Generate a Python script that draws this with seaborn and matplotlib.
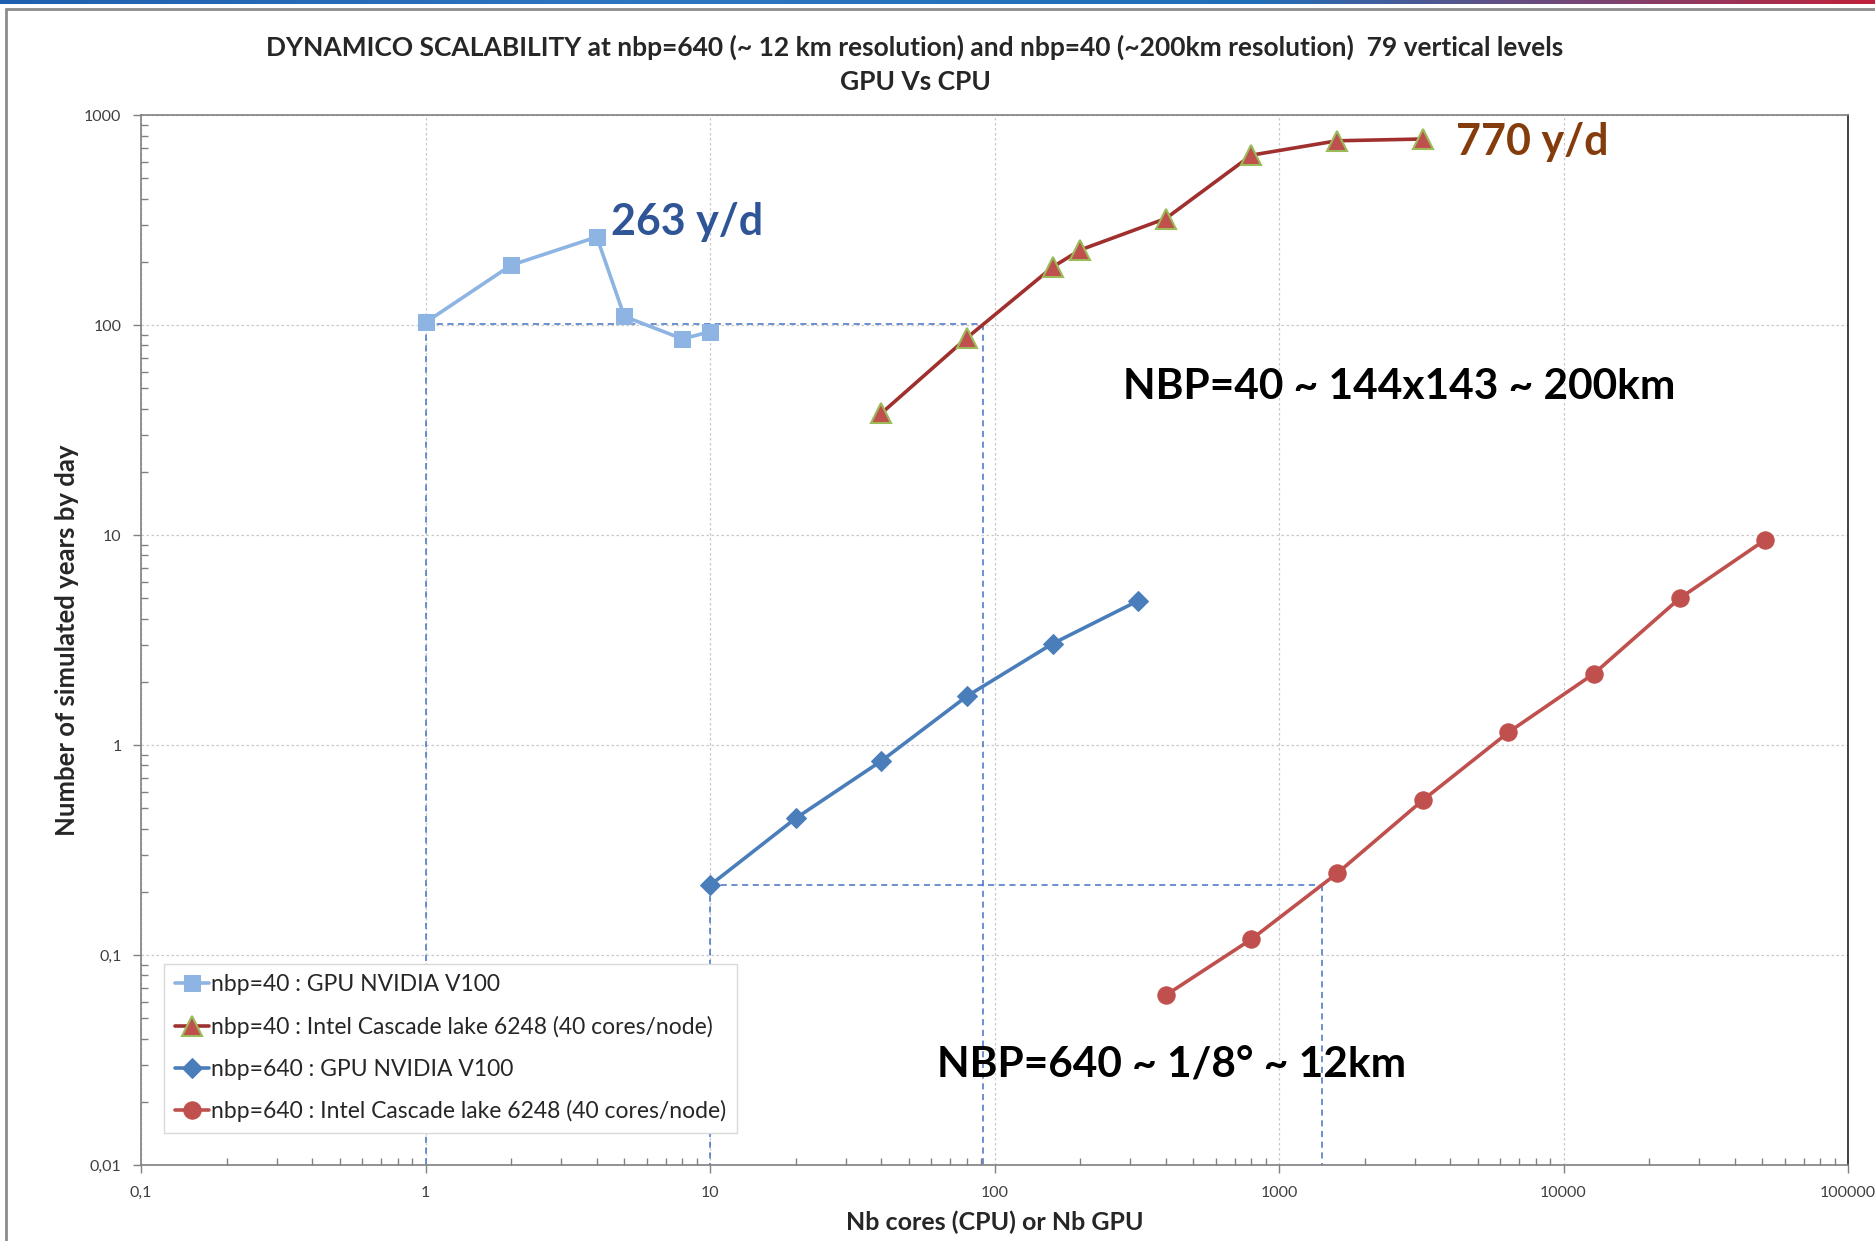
import numpy as np
import pandas as pd
import matplotlib
matplotlib.use("Agg")
import matplotlib.pyplot as plt
from matplotlib.ticker import FuncFormatter, LogLocator, NullFormatter
import seaborn as sns

# nbp=40 : GPU NVIDIA V100
gpu40_x = [1, 2, 4, 5, 8, 10]
gpu40_y = [103, 193, 263, 110, 86, 93]

# nbp=40 : Intel Cascade lake 6248
cpu40_x = [40, 80, 160, 200, 400, 800, 1600, 3200]
cpu40_y = [38, 87, 189, 228, 322, 645, 755, 770]

# nbp=640 : GPU NVIDIA V100
gpu640_x = [10, 20, 40, 80, 160, 320]
gpu640_y = [0.215, 0.448, 0.84, 1.71, 3.04, 4.87]

# nbp=640 : Intel Cascade lake 6248
cpu640_x = [400, 800, 1600, 3200, 6400, 12800, 25600, 51200]
cpu640_y = [0.0644, 0.119, 0.245, 0.546, 1.15, 2.19, 5.0, 9.5]

# GPU vs CPU equivalence guides (start point, equivalent CPU cores)
guide_y = [101, 0.215]
guide_x0 = [1, 10]
guide_x1 = [91, 1413]

series_labels = [
    "nbp=40 : GPU NVIDIA V100",
    "nbp=40 : Intel Cascade lake 6248 (40 cores/node)",
    "nbp=640 : GPU NVIDIA V100",
    "nbp=640 : Intel Cascade lake 6248 (40 cores/node)",
]

x_ticks = [0.1, 1, 10, 100, 1000, 10000, 100000]
y_ticks = [0.01, 0.1, 1, 10, 100, 1000]

sns.set_theme(style="white")
plt.rcParams["font.family"] = ["Lato", "DejaVu Sans"]

fig = plt.figure(figsize=(18.75, 12.41), dpi=100)
ax = fig.add_axes([0.0752, 0.0612, 0.9104, 0.846])

styles = [
    dict(color="#8DB4E2", marker="s", markersize=12, mfc="#8DB4E2", mec="#8DB4E2"),
    dict(color="#A0302E", marker="^", markersize=15, mfc="#C0504D", mec="#9BBB59", mew=1.5),
    dict(color="#4A7EBB", marker="D", markersize=10, mfc="#4A7EBB", mec="#4A7EBB"),
    dict(color="#C0504D", marker="o", markersize=12.5, mfc="#C0504D", mec="#C0504D"),
]
all_x = [gpu40_x, cpu40_x, gpu640_x, cpu640_x]
all_y = [gpu40_y, cpu40_y, gpu640_y, cpu640_y]

for xs, ys, lab, st in zip(all_x, all_y, series_labels, styles):
    df = pd.DataFrame({"x": xs, "y": ys})
    sns.lineplot(data=df, x="x", y="y", ax=ax, label=lab, estimator=None,
                 linewidth=2.6, zorder=4, **st)

# dashed equivalence guides
for gy, gx0, gx1 in zip(guide_y, guide_x0, guide_x1):
    ax.plot([gx0, gx1], [gy, gy], ls=(0, (4, 3)), color="#4472C4", lw=1.1, zorder=2)
    ax.plot([gx0, gx0], [gy, 0.01], ls=(0, (4, 3)), color="#4472C4", lw=1.1, zorder=2)
    ax.plot([gx1, gx1], [gy, 0.01], ls=(0, (4, 3)), color="#4472C4", lw=1.1, zorder=2)

ax.set_xscale("log")
ax.set_yscale("log")
ax.set_xlim(0.1, 100000)
ax.set_ylim(0.01, 1000)

def comma_fmt(v, pos):
    if v >= 1:
        return f"{int(round(v))}"
    return f"{v:g}".replace(".", ",")

ax.set_xticks(x_ticks)
ax.set_yticks(y_ticks)
ax.xaxis.set_major_formatter(FuncFormatter(comma_fmt))
ax.yaxis.set_major_formatter(FuncFormatter(comma_fmt))
ax.xaxis.set_minor_locator(LogLocator(base=10, subs=np.arange(2, 10)))
ax.yaxis.set_minor_locator(LogLocator(base=10, subs=np.arange(2, 10)))
ax.xaxis.set_minor_formatter(NullFormatter())
ax.yaxis.set_minor_formatter(NullFormatter())
ax.tick_params(which="major", direction="out", length=6, width=1, color="#808080",
               labelsize=11.5, labelcolor="#404040", pad=9)
ax.tick_params(axis="y", which="major", pad=8)
ax.tick_params(which="minor", direction="in", length=5, width=1, color="#808080")
ax.tick_params(bottom=True, left=True, which="both")

ax.grid(True, which="major", ls=(0, (2, 2)), color="#C8C8C8", lw=0.9)
for side, sp in ax.spines.items():
    sp.set_color("#808080")
    sp.set_linewidth(1.2)
ax.spines["right"].set_color("#202020")

ax.set_xlabel("Nb cores (CPU) or Nb GPU", fontsize=18, fontweight="bold", labelpad=8)
ax.set_ylabel("Number of simulated years by day", fontsize=18.5, fontweight="bold", labelpad=4)

fig.text(0.488, 0.962,
         "DYNAMICO SCALABILITY at nbp=640 (~ 12 km resolution) and nbp=40 (~200km resolution)  79 vertical levels",
         ha="center", va="center", fontsize=19, fontweight="bold")
fig.text(0.488, 0.934, "GPU Vs CPU", ha="center", va="center", fontsize=19, fontweight="bold")

# annotations
ax.text(4.5, 310, "263 y/d", color="#2F5597", fontsize=31, fontweight="bold", ha="left", va="center")
ax.text(4200, 745, "770 y/d", color="#843C0C", fontsize=31, fontweight="bold", ha="left", va="center")
ax.text(284, 51, "NBP=40 ~ 144x143 ~ 200km", color="black", fontsize=30.5, fontweight="bold",
        ha="left", va="center")
ax.text(63, 0.0297, "NBP=640 ~ 1/8° ~ 12km", color="black", fontsize=30.5, fontweight="bold",
        ha="left", va="center")

leg = ax.legend(loc="lower left", bbox_to_anchor=(0.007, 0.02), fontsize=16.5,
                frameon=True, fancybox=False, edgecolor="#D9D9D9", framealpha=1,
                handlelength=1.5, handletextpad=0.1, labelspacing=0.9, borderpad=0.45)
leg.get_frame().set_linewidth(1.0)

# slide frame and coloured top bar
grad = np.linspace(0, 1, 256).reshape(1, -1)
bar_ax = fig.add_axes([0, 1 - 4 / 1241, 1, 4 / 1241])
bar_ax.imshow(grad, aspect="auto",
              cmap=matplotlib.colors.LinearSegmentedColormap.from_list(
                  "bar", ["#1F5FAF", "#2E75C0", "#1F6FB8", "#C0213A"]))
bar_ax.axis("off")
fig.add_artist(plt.Line2D([6 / 1875, 6 / 1875], [0, 1 - 9 / 1241], color="#8C8C8C",
                          lw=2, transform=fig.transFigure))
fig.add_artist(plt.Line2D([6 / 1875, 1], [1 - 9 / 1241, 1 - 9 / 1241], color="#8C8C8C",
                          lw=2, transform=fig.transFigure))

fig.savefig("out.png", dpi=100)
